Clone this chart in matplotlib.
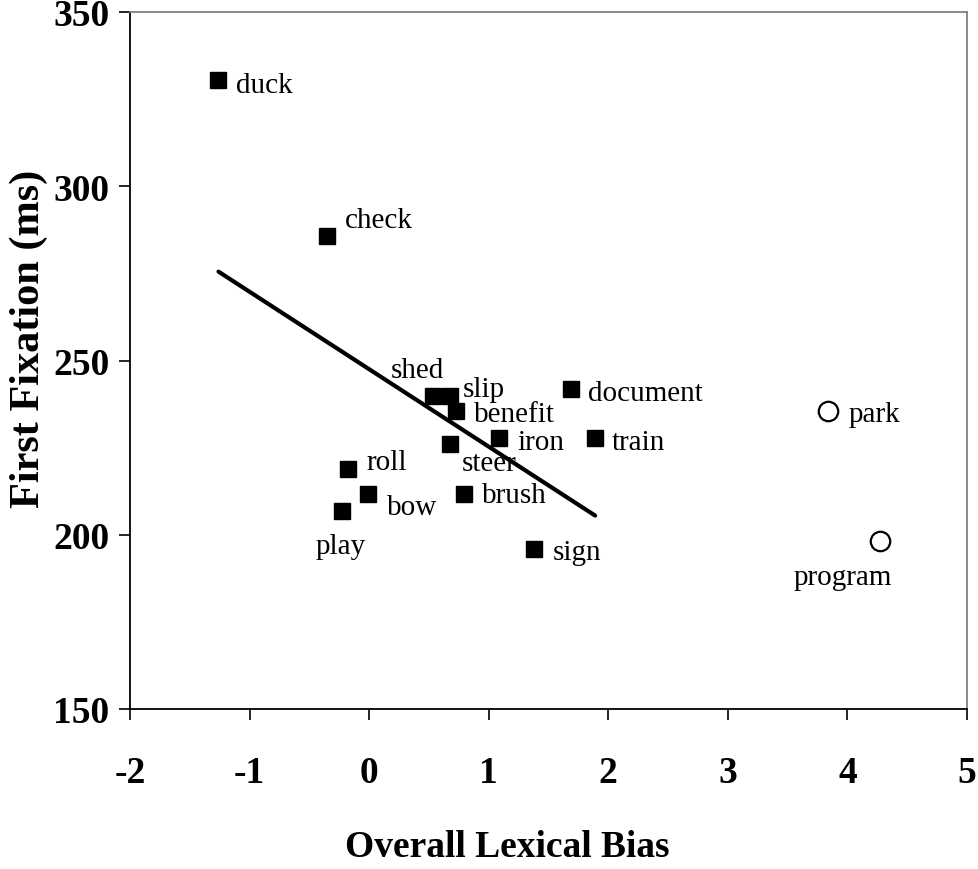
import matplotlib
matplotlib.use("Agg")
import matplotlib.pyplot as plt

# Lexically ambiguous words (filled squares)
words = ["duck", "check", "shed", "slip", "benefit", "document", "iron", "train",
         "steer", "roll", "bow", "brush", "play", "sign"]
bias = [-1.26, -0.35, 0.53, 0.68, 0.73, 1.69, 1.09, 1.89,
        0.68, -0.18, -0.01, 0.79, -0.23, 1.38]
fixation = [330.5, 285.6, 239.7, 239.7, 235.6, 241.7, 227.9, 227.9,
            225.9, 219.0, 211.8, 211.8, 206.9, 196.0]

# Outlier words (open circles)
out_words = ["park", "program"]
out_bias = [3.84, 4.27]
out_fixation = [235.6, 198.3]

# Trend line endpoints
trend_x = [-1.26, 1.89]
trend_y = [275.5, 205.5]

x_ticks = [-2, -1, 0, 1, 2, 3, 4, 5]
x_ticklabels = ["-2", "-1", "0", "1", "2", "3", "4", "5"]
y_ticks = [150, 200, 250, 300, 350]

# label offsets in pixels (dx right, dy down) from the marker centre
offsets = {
    "duck": (18, 5), "check": (18, -16), "shed": (-42, -26), "slip": (12, -7),
    "benefit": (18, 3), "document": (17, 4), "iron": (18, 4), "train": (17, 4),
    "steer": (11, 19), "roll": (19, -7), "bow": (19, 13), "brush": (18, 1),
    "play": (-26, 35), "sign": (19, 3), "park": (20, 3), "program": (-86, 36),
}

plt.rcParams['font.family'] = ['Liberation Serif', 'DejaVu Serif']

W, H = 979, 870
fig = plt.figure(figsize=(W / 100, H / 100), dpi=100)
ax = fig.add_axes([130 / W, 160 / H, 837 / W, 697 / H])

ax.plot(trend_x, trend_y, color='black', lw=3, solid_capstyle='round', zorder=2)
ax.plot(bias, fixation, linestyle='none', marker='s', ms=11.5,
        color='black', zorder=3)
ax.plot(out_bias, out_fixation, linestyle='none', marker='o', ms=14,
        markerfacecolor='white', markeredgecolor='black', mew=1.6, zorder=3)

px = 72 / 100.0
for w, x, y in list(zip(words, bias, fixation)) + list(zip(out_words, out_bias, out_fixation)):
    dx, dy = offsets[w]
    ax.annotate(w, (x, y), xytext=(dx * px, -dy * px), textcoords='offset points',
                ha='left', va='center', fontsize=21)

ax.set_xlim(-2, 5)
ax.set_ylim(150, 350)
ax.set_xticks(x_ticks)
ax.set_xticklabels(x_ticklabels)
ax.set_yticks(y_ticks)
ax.tick_params(axis='x', direction='out', length=8, width=1.2, pad=25, labelsize=27)
ax.tick_params(axis='y', direction='out', length=8, width=1.2, pad=7, labelsize=27)
for lab in ax.get_xticklabels() + ax.get_yticklabels():
    lab.set_fontweight('bold')

for s in ['left', 'bottom']:
    ax.spines[s].set_linewidth(1.3)
    ax.spines[s].set_color('black')
for s in ['top', 'right']:
    ax.spines[s].set_linewidth(1.3)
    ax.spines[s].set_color('0.5')

fig.text(507 / W, 1 - 848 / H, 'Overall Lexical Bias', fontsize=27,
         fontweight='bold', ha='center', va='center')
fig.text(29 / W, 1 - 339 / H, 'First Fixation (ms)', fontsize=30.5,
         fontweight='bold', ha='center', va='center', rotation=90)

fig.savefig('out.png', dpi=100)
